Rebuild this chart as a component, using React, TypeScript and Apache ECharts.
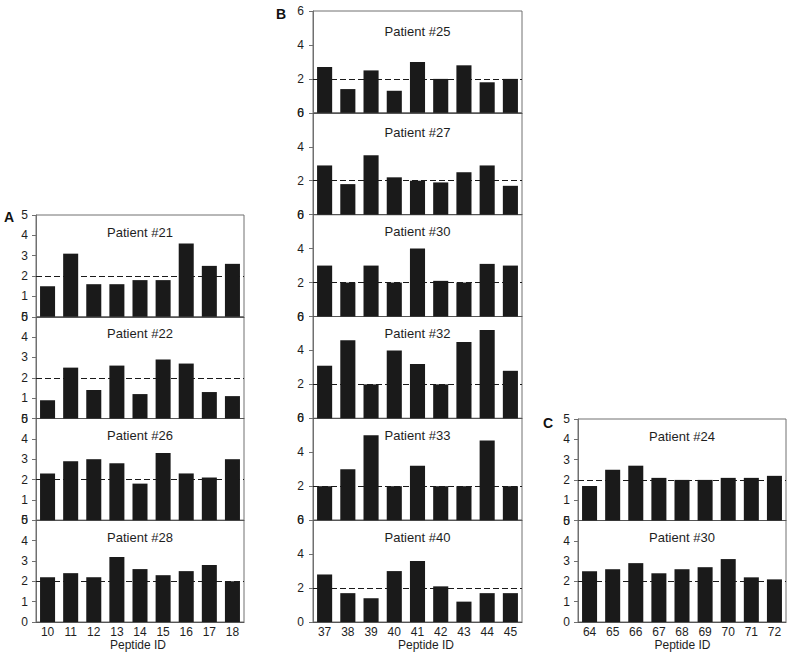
import React, { useEffect, useRef } from "react";
import * as echarts from "echarts";

// Peptide IDs (categories)
const peptidesA = ["10", "11", "12", "13", "14", "15", "16", "17", "18"];
const peptidesB = ["37", "38", "39", "40", "41", "42", "43", "44", "45"];
const peptidesC = ["64", "65", "66", "67", "68", "69", "70", "71", "72"];

// Panel A values
const patient21 = [1.5, 3.1, 1.6, 1.6, 1.8, 1.8, 3.6, 2.5, 2.6];
const patient22 = [0.9, 2.5, 1.4, 2.6, 1.2, 2.9, 2.7, 1.3, 1.1];
const patient26 = [2.3, 2.9, 3.0, 2.8, 1.8, 3.3, 2.3, 2.1, 3.0];
const patient28 = [2.2, 2.4, 2.2, 3.2, 2.6, 2.3, 2.5, 2.8, 2.0];

// Panel B values
const patient25 = [2.7, 1.4, 2.5, 1.3, 3.0, 2.0, 2.8, 1.8, 2.0];
const patient27 = [2.9, 1.8, 3.5, 2.2, 2.0, 1.9, 2.5, 2.9, 1.7];
const patient30B = [3.0, 2.0, 3.0, 2.0, 4.0, 2.1, 2.0, 3.1, 3.0];
const patient32 = [3.1, 4.6, 2.0, 4.0, 3.2, 2.0, 4.5, 5.2, 2.8];
const patient33 = [2.0, 3.0, 5.0, 2.0, 3.2, 2.0, 2.0, 4.7, 2.0];
const patient40 = [2.8, 1.7, 1.4, 3.0, 3.6, 2.1, 1.2, 1.7, 1.7];

// Panel C values
const patient24 = [1.7, 2.5, 2.7, 2.1, 2.0, 2.0, 2.1, 2.1, 2.2];
const patient30C = [2.5, 2.6, 2.9, 2.4, 2.6, 2.7, 3.1, 2.2, 2.1];

const thresholdValue = 2;
const panelLetters = ["A", "B", "C"];
const axisName = "Peptide ID";

type Panel = {
  title: string;
  data: number[];
  cats: string[];
  left: number;
  width: number;
  top: number;
  height: number;
  max: number;
  interval: number;
  bottom: boolean;
  titleOffset: number;
};

function buildPanels(): Panel[] {
  const panels: Panel[] = [];
  const A = [
    ["Patient #21", patient21],
    ["Patient #22", patient22],
    ["Patient #26", patient26],
    ["Patient #28", patient28],
  ] as [string, number[]][];
  const B = [
    ["Patient #25", patient25],
    ["Patient #27", patient27],
    ["Patient #30", patient30B],
    ["Patient #32", patient32],
    ["Patient #33", patient33],
    ["Patient #40", patient40],
  ] as [string, number[]][];
  const C = [
    ["Patient #24", patient24],
    ["Patient #30", patient30C],
  ] as [string, number[]][];

  const aTop = 215, aBottom = 622;
  const aH = (aBottom - aTop) / A.length;
  A.forEach(([t, d], i) =>
    panels.push({
      title: t, data: d, cats: peptidesA, left: 36, width: 208,
      top: aTop + i * aH, height: aH, max: 5, interval: 1,
      bottom: i === A.length - 1, titleOffset: 17,
    })
  );
  const bTop = 11, bBottom = 622;
  const bH = (bBottom - bTop) / B.length;
  B.forEach(([t, d], i) =>
    panels.push({
      title: t, data: d, cats: peptidesB, left: 313, width: 209,
      top: bTop + i * bH, height: bH, max: 6, interval: 2,
      bottom: i === B.length - 1, titleOffset: i < 2 ? 20 : 17,
    })
  );
  const cTop = 419, cBottom = 622;
  const cH = (cBottom - cTop) / C.length;
  C.forEach(([t, d], i) =>
    panels.push({
      title: t, data: d, cats: peptidesC, left: 578, width: 208,
      top: cTop + i * cH, height: cH, max: 5, interval: 1,
      bottom: i === C.length - 1, titleOffset: 17,
    })
  );
  return panels;
}

export default function App() {
  const ref = useRef<HTMLDivElement>(null);

  useEffect(() => {
    document.body.style.margin = "0";
    if (!ref.current) return;
    const chart = echarts.init(ref.current, undefined, { renderer: "svg" });
    const panels = buildPanels();
    const font = "Liberation Sans, Arial, Helvetica, sans-serif";
    const textColor = "#1e1e1e";
    const axisColor = "#707070";

    const grids = panels.map((p) => ({
      left: p.left,
      top: p.top,
      width: p.width,
      height: p.height,
      show: true,
      borderColor: axisColor,
      borderWidth: 1,
      containLabel: false,
    }));

    const xAxes = panels.map((p, i) => ({
      type: "category",
      gridIndex: i,
      data: p.cats,
      axisLine: { show: true, lineStyle: { color: "#555", width: 1.2 } },
      axisTick: { show: false },
      axisLabel: {
        show: p.bottom,
        fontSize: 12,
        color: textColor,
        fontFamily: font,
        margin: 4,
        interval: 0,
      },
    }));

    const yAxes = panels.map((p, i) => ({
      type: "value",
      gridIndex: i,
      min: 0,
      max: p.max,
      interval: p.interval,
      axisLine: { show: true, lineStyle: { color: axisColor, width: 1 } },
      axisTick: { show: true, length: 4, lineStyle: { color: axisColor } },
      splitLine: { show: false },
      axisLabel: {
        fontSize: 12,
        color: textColor,
        fontFamily: font,
        margin: p.max === 6 ? 9 : 8,
      },
    }));

    const series = panels.map((p, i) => ({
      type: "bar",
      xAxisIndex: i,
      yAxisIndex: i,
      data: p.data,
      barWidth: "65%",
      itemStyle: { color: "#1a1a1a" },
      markLine: {
        silent: true,
        symbol: "none",
        label: { show: false },
        lineStyle: { color: "#1a1a1a", width: 1.2, type: [6, 3] },
        data: [{ yAxis: thresholdValue }],
      },
    }));

    const graphics: any[] = [];
    panels.forEach((p) => {
      graphics.push({
        type: "text",
        x: p.left + p.width / 2,
        y: p.top + p.titleOffset,
        style: {
          text: p.title,
          fontSize: 13,
          fontFamily: font,
          fill: textColor,
          textAlign: "center",
          textVerticalAlign: "middle",
        },
      });
    });
    const letterPos = [
      [9, 217],
      [281, 14],
      [548, 422.5],
    ];
    panelLetters.forEach((l, i) => {
      graphics.push({
        type: "text",
        x: letterPos[i][0],
        y: letterPos[i][1],
        style: {
          text: l,
          fontSize: 14,
          fontWeight: "bold",
          fontFamily: font,
          fill: "#111",
          textAlign: "center",
          textVerticalAlign: "middle",
        },
      });
    });
    const namePos = [138, 426, 682.5];
    namePos.forEach((x) => {
      graphics.push({
        type: "text",
        x,
        y: 645,
        style: {
          text: axisName,
          fontSize: 12,
          fontFamily: font,
          fill: textColor,
          textAlign: "center",
          textVerticalAlign: "middle",
        },
      });
    });

    chart.setOption({
      animation: false,
      backgroundColor: "#ffffff",
      grid: grids,
      xAxis: xAxes,
      yAxis: yAxes,
      series,
      graphic: graphics,
    });

    return () => chart.dispose();
  }, []);

  return <div ref={ref} style={{ width: 795, height: 655 }} />;
}
